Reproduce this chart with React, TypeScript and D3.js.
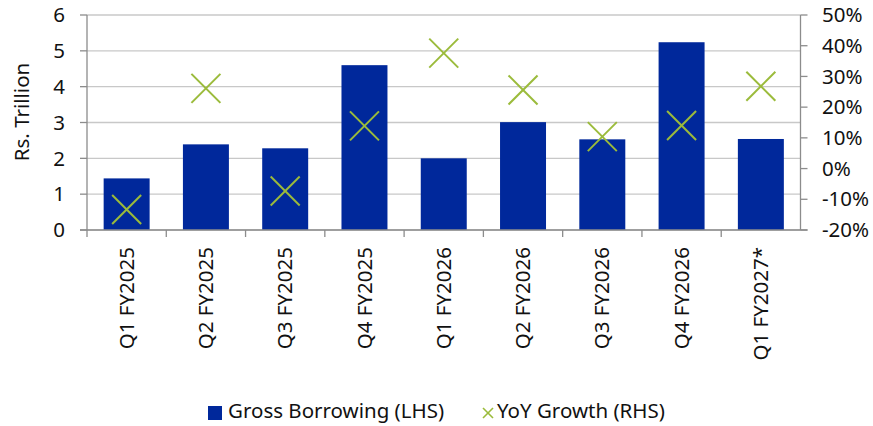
import React from "react";
import * as d3 from "d3";

const categories = ["Q1 FY2025", "Q2 FY2025", "Q3 FY2025", "Q4 FY2025", "Q1 FY2026", "Q2 FY2026", "Q3 FY2026", "Q4 FY2026", "Q1 FY2027*"];
const grossBorrowing = [1.44, 2.39, 2.28, 4.6, 2.0, 3.01, 2.53, 5.24, 2.54];
const yoyGrowth = [-13.3, 26.1, -7.3, 13.9, 37.6, 25.6, 10.4, 14.0, 26.8];
const leftTicks = [0, 1, 2, 3, 4, 5, 6];
const rightTicks = [-20, -10, 0, 10, 20, 30, 40, 50];

const W = 873, H = 426;
const L = 87, R = 800.5, T = 15, B = 230;
const FONT = "'Noto Sans', 'Open Sans', sans-serif";
const BAR = "#00289B";
const MARK = "#9BBB3B";
const FS = 20.5;

export default function App() {
  const x = d3.scaleBand<string>().domain(categories).range([L, R]).paddingInner(0.42).paddingOuter(0.21);
  const xs = d3.scaleBand<string>().domain(categories).range([L, R]);
  const yL = d3.scaleLinear().domain([0, 6]).range([B, T]);
  const yR = d3.scaleLinear().domain([-20, 50]).range([B, T]);
  const ms = 14.5;
  return (
    <svg width={W} height={H} style={{ position: "absolute", left: 0, top: 0 }} fontFamily={FONT}>
      {leftTicks.map((t) => (
        <line key={"g" + t} x1={L} x2={R} y1={yL(t)} y2={yL(t)} stroke="#C8C8C8" strokeWidth={1.3} />
      ))}
      {categories.map((c, i) => (
        <rect key={c} x={x(c)} y={yL(grossBorrowing[i])} width={x.bandwidth()} height={B - yL(grossBorrowing[i])} fill={BAR} />
      ))}
      {categories.map((c, i) => {
        const cx = (xs(c) as number) + xs.bandwidth() / 2;
        const cy = yR(yoyGrowth[i]);
        return (
          <g key={"m" + c} stroke={MARK} strokeWidth={2}>
            <line x1={cx - ms} y1={cy - ms} x2={cx + ms} y2={cy + ms} />
            <line x1={cx - ms} y1={cy + ms} x2={cx + ms} y2={cy - ms} />
          </g>
        );
      })}
      <line x1={L} x2={L} y1={T} y2={B} stroke="#8C8C8C" strokeWidth={1.3} />
      <line x1={R} x2={R} y1={T} y2={B} stroke="#8C8C8C" strokeWidth={1.3} />
      <line x1={L - 7} x2={R + 7} y1={B} y2={B} stroke="#8C8C8C" strokeWidth={1.3} />
      {leftTicks.map((t) => (
        <g key={"lt" + t}>
          <line x1={L - 7} x2={L} y1={yL(t)} y2={yL(t)} stroke="#8C8C8C" strokeWidth={1.3} />
          <text x={65} y={yL(t)} dy="0.35em" textAnchor="end" fontSize={FS} fill="#111">{t}</text>
        </g>
      ))}
      {rightTicks.map((t) => (
        <g key={"rt" + t}>
          <line x1={R} x2={R + 7} y1={yR(t)} y2={yR(t)} stroke="#8C8C8C" strokeWidth={1.3} />
          <text x={822} y={yR(t)} dy="0.35em" textAnchor="start" fontSize={FS} fill="#111">{t}%</text>
        </g>
      ))}
      {categories.map((c) => (
        <line key={"ct" + c} x1={xs(c)} x2={xs(c)} y1={B} y2={B + 7} stroke="#8C8C8C" strokeWidth={1.3} />
      ))}
      {categories.map((c) => {
        const cx = (xs(c) as number) + xs.bandwidth() / 2;
        return (
          <text key={"cl" + c} transform={`translate(${cx},247) rotate(-90)`} dy="0.35em" textAnchor="end" fontSize={FS} fill="#111">{c}</text>
        );
      })}
      <text transform={`translate(22,112) rotate(-90)`} dy="0.35em" textAnchor="middle" fontSize={FS} fill="#111">Rs. Trillion</text>
      <rect x={208} y={406} width={14} height={14} fill={BAR} />
      <text x={228} y={411} dy="0.35em" fontSize={FS} fill="#111">Gross Borrowing (LHS)</text>
      <g stroke={MARK} strokeWidth={1.6}>
        <line x1={483} y1={408} x2={493} y2={418} />
        <line x1={483} y1={418} x2={493} y2={408} />
      </g>
      <text x={497} y={411} dy="0.35em" fontSize={FS} fill="#111">YoY Growth (RHS)</text>
    </svg>
  );
}
